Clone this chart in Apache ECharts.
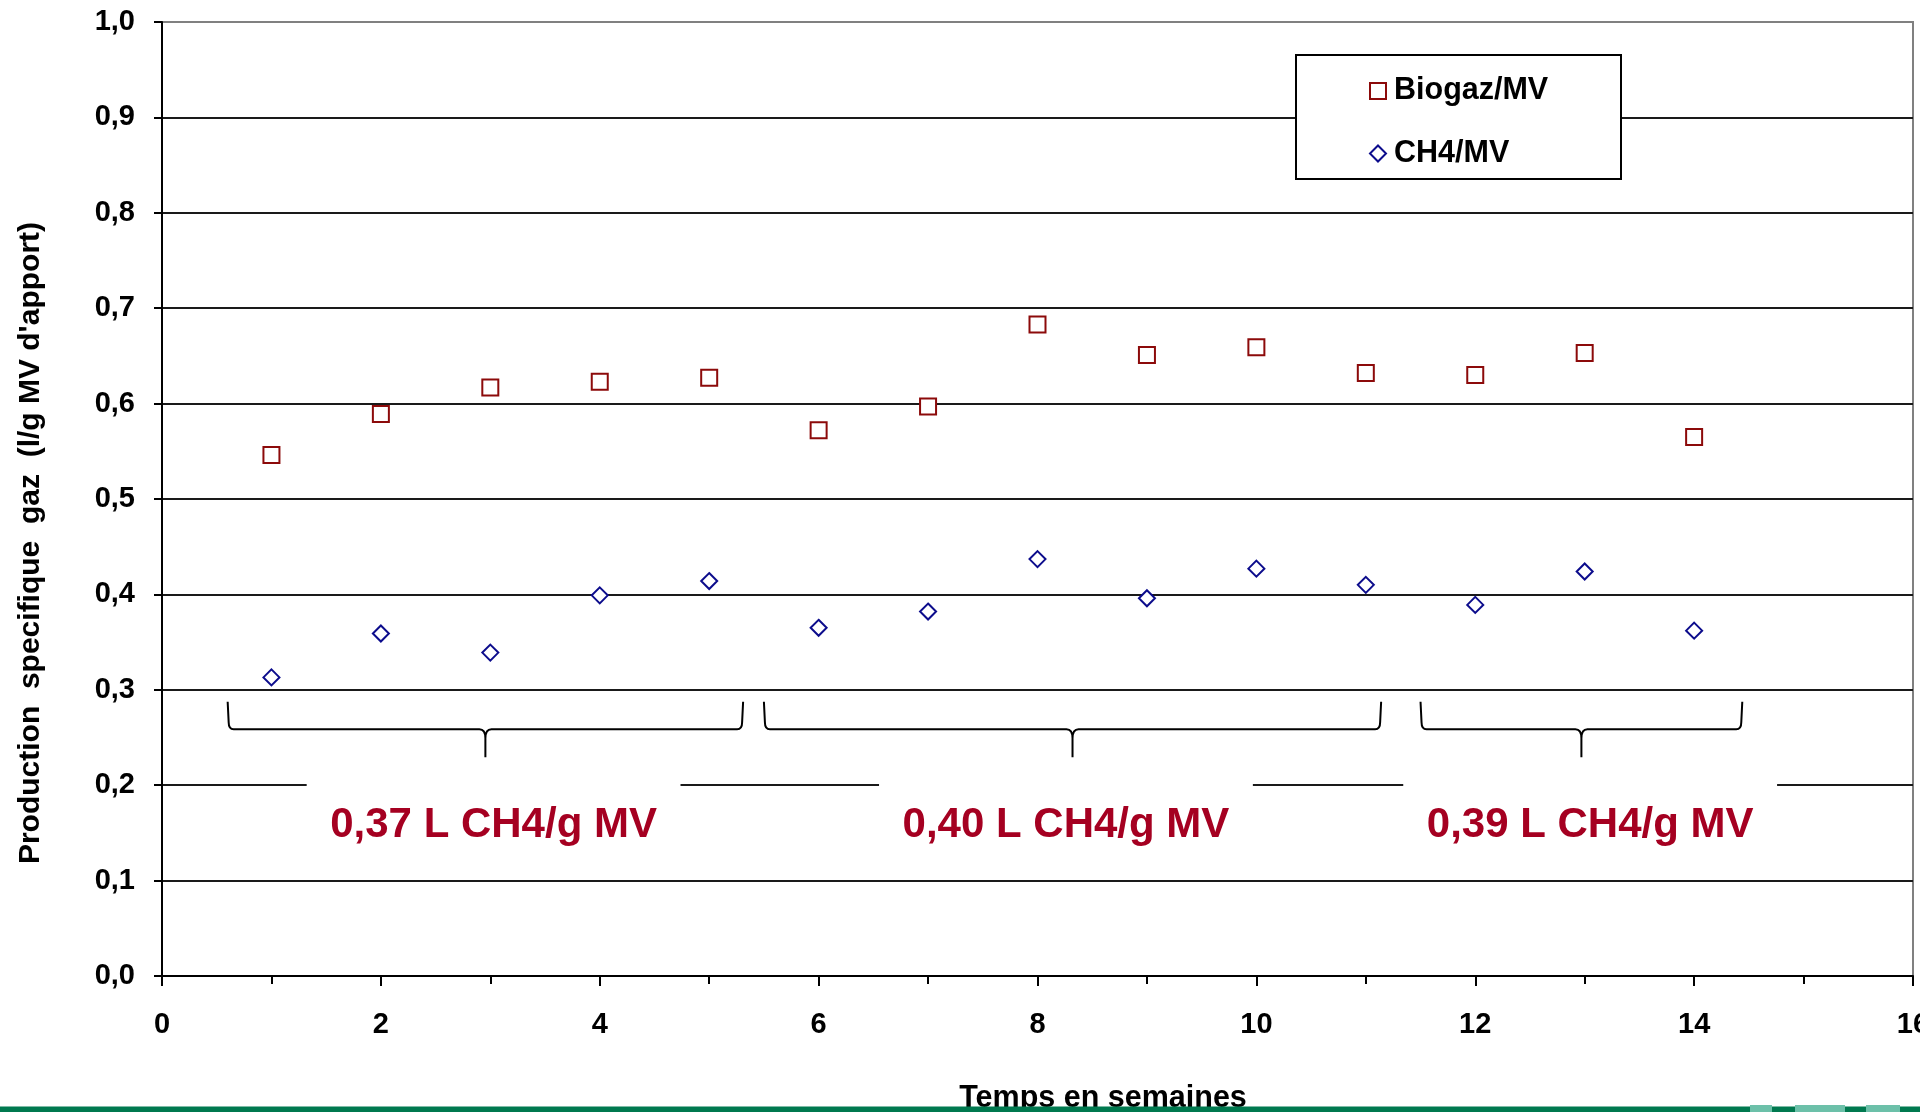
<!DOCTYPE html>
<html>
<head>
<meta charset="utf-8">
<script src="https://cdn.jsdelivr.net/npm/echarts@6/dist/echarts.min.js"></script>
<style>
html,body{margin:0;padding:0;background:#fff;}
#c{width:1920px;height:1112px;}
</style>
</head>
<body>
<div id="c"></div>
<script>
// ---- data ----
const weeks = [1, 2, 3, 4, 5, 6, 7, 8, 9, 10, 11, 12, 13, 14];
const biogazMV = [0.546, 0.589, 0.617, 0.623, 0.627, 0.572, 0.597, 0.683, 0.651, 0.659, 0.632, 0.630, 0.653, 0.565];
const ch4MV = [0.313, 0.359, 0.339, 0.399, 0.414, 0.365, 0.382, 0.437, 0.396, 0.427, 0.410, 0.389, 0.424, 0.362];
const seriesNames = ['Biogaz/MV', 'CH4/MV'];
const periodStart = [0.60, 5.50, 11.50];
const periodEnd = [5.31, 11.14, 14.44];
const periodLabelAt = [3.03, 8.26, 13.05];
const periodLabels = ['0,37 L CH4/g MV', '0,40 L CH4/g MV', '0,39 L CH4/g MV'];
const xTitle = 'Temps en semaines';
const yTitle = "Production  specifique  gaz  (l/g MV d'apport)";

// ---- styles ----
const FONT = '"Liberation Sans", Arial, sans-serif';
const RED = '#8c0a0a';
const BLUE = '#0c0c8c';
const NOTE = '#a50021';
const BRACE_TOP = 0.2875, BRACE_LINE = 0.2586, BRACE_TIP = 0.2293;
const BOX_TOP = 0.226, BOX_BOTTOM = 0.112, BOX_HALF = 1.708, LABEL_Y = 0.158;

const chart = echarts.init(document.getElementById('c'));

function renderPeriod(params, api) {
  const i = params.dataIndex;
  const p0 = api.coord([periodStart[i], BRACE_TOP]);
  const p1 = api.coord([periodEnd[i], BRACE_LINE]);
  const x0 = p0[0], yt = p0[1], x1 = p1[0], yl = p1[1];
  const xm = (x0 + x1) / 2;
  const yp = api.coord([0, BRACE_TIP])[1];
  const path =
    'M' + x0 + ',' + yt + ' L' + (x0 + 1) + ',' + (yl - 7) +
    ' Q' + (x0 + 1) + ',' + yl + ' ' + (x0 + 6) + ',' + yl +
    ' L' + (xm - 6) + ',' + yl + ' Q' + xm + ',' + yl + ' ' + xm + ',' + (yl + 9) +
    ' L' + xm + ',' + yp +
    ' M' + xm + ',' + (yl + 9) + ' Q' + xm + ',' + yl + ' ' + (xm + 6) + ',' + yl +
    ' L' + (x1 - 6) + ',' + yl + ' Q' + (x1 - 1) + ',' + yl + ' ' + (x1 - 1) + ',' + (yl - 7) +
    ' L' + x1 + ',' + yt;
  const b0 = api.coord([periodLabelAt[i] - BOX_HALF, BOX_TOP]);
  const b1 = api.coord([periodLabelAt[i] + BOX_HALF, BOX_BOTTOM]);
  const tc = api.coord([periodLabelAt[i], LABEL_Y]);
  return {
    type: 'group',
    children: [
      { type: 'rect', shape: { x: b0[0], y: b0[1], width: b1[0] - b0[0], height: b1[1] - b0[1] }, style: { fill: '#fff' } },
      { type: 'path', shape: { pathData: path }, style: { stroke: '#000', lineWidth: 2, fill: 'none' } },
      { type: 'text', x: tc[0], y: tc[1], style: {
          text: periodLabels[i], fill: NOTE, font: 'bold 42px ' + FONT,
          align: 'center', verticalAlign: 'middle', textAlign: 'center', textVerticalAlign: 'middle' } }
    ]
  };
}

const option = {
  animation: false,
  backgroundColor: '#fff',
  grid: {
    left: 162, right: 7, top: 22, bottom: 136,
    show: true, borderColor: '#808080', borderWidth: 2, backgroundColor: 'transparent',
    outerBoundsMode: 'none'
  },
  xAxis: {
    type: 'value', min: 0, max: 16, interval: 2,
    axisLine: { show: true, onZero: false, lineStyle: { color: '#000', width: 2 } },
    axisTick: { show: true, length: 10, lineStyle: { color: '#000', width: 2 } },
    minorTick: { show: true, splitNumber: 2, length: 8, lineStyle: { color: '#000', width: 2 } },
    splitLine: { show: false },
    minorSplitLine: { show: false },
    axisLabel: { margin: 34, fontSize: 29, fontWeight: 'bold', color: '#000', fontFamily: FONT }
  },
  yAxis: {
    type: 'value', min: 0, max: 1, interval: 0.1,
    axisLine: { show: true, lineStyle: { color: '#000', width: 2 } },
    axisTick: { show: true, length: 8, lineStyle: { color: '#000', width: 2 } },
    splitLine: { show: true, showMaxLine: false, lineStyle: { color: '#1a1a1a', width: 2 } },
    axisLabel: {
      margin: 27, fontSize: 29, fontWeight: 'bold', color: '#000', fontFamily: FONT,
      formatter: v => v.toFixed(1).replace('.', ',')
    }
  },
  legend: {
    orient: 'vertical', left: 1369, top: 75.5, padding: 0,
    itemWidth: 16, itemHeight: 16, itemGap: 31.5,
    selectedMode: false,
    textStyle: { fontFamily: FONT, fontWeight: 'bold', fontSize: 30.5, color: '#000', lineHeight: 30, padding: [0, 0, 0, 3] },
    data: [
      { name: seriesNames[0], icon: 'rect', itemStyle: { color: '#fff', borderColor: RED, borderWidth: 2 } },
      { name: seriesNames[1], icon: 'diamond', itemStyle: { color: '#fff', borderColor: BLUE, borderWidth: 2 } }
    ]
  },
  graphic: [
    { type: 'rect', z: 3, shape: { x: 1296, y: 55, width: 325, height: 124 }, style: { fill: '#fff', stroke: '#000', lineWidth: 2 } },
    { type: 'text', z: 3, x: 31, y: 543, rotation: Math.PI / 2,
      style: { text: yTitle, font: 'bold 30px ' + FONT, fill: '#000', align: 'center', verticalAlign: 'middle', textAlign: 'center', textVerticalAlign: 'middle' } },
    { type: 'text', z: 3, x: 1103, y: 1099, 
      style: { text: xTitle, font: 'bold 30.5px ' + FONT, fill: '#000', align: 'center', verticalAlign: 'middle', textAlign: 'center', textVerticalAlign: 'middle' } },
    { type: 'rect', z: 10, shape: { x: 0, y: 1106.5, width: 1920, height: 6 }, style: { fill: '#00794f' } },
    { type: 'rect', z: 11, shape: { x: 1750, y: 1105, width: 22, height: 7 }, style: { fill: '#6cc0a9' } },
    { type: 'rect', z: 11, shape: { x: 1795, y: 1105, width: 50, height: 7 }, style: { fill: '#6cc0a9' } },
    { type: 'rect', z: 11, shape: { x: 1866, y: 1105, width: 34, height: 7 }, style: { fill: '#6cc0a9' } }
  ],
  series: [
    {
      name: seriesNames[0], type: 'scatter', symbol: 'rect', symbolSize: 16,
      itemStyle: { color: '#fff', borderColor: RED, borderWidth: 2, opacity: 1 },
      data: weeks.map((w, i) => [w, biogazMV[i]]), z: 5
    },
    {
      name: seriesNames[1], type: 'scatter', symbol: 'diamond', symbolSize: 16,
      itemStyle: { color: '#fff', borderColor: BLUE, borderWidth: 2, opacity: 1 },
      data: weeks.map((w, i) => [w, ch4MV[i]]), z: 5
    },
    {
      name: 'periods', type: 'custom', silent: true, z: 3,
      renderItem: renderPeriod,
      encode: { x: [0, 1, 2], y: 3 },
      data: periodStart.map((s, i) => [s, periodEnd[i], periodLabelAt[i], LABEL_Y])
    }
  ]
};
chart.setOption(option);
</script>
</body>
</html>
